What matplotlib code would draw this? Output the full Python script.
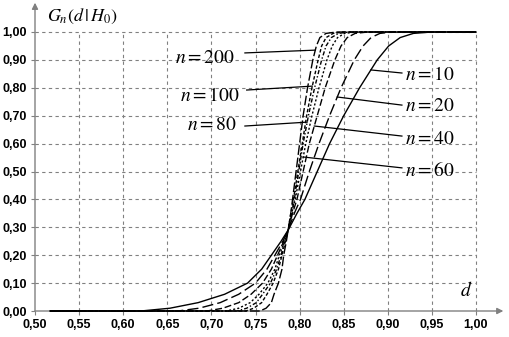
import numpy as np
import matplotlib
matplotlib.use("Agg")
import matplotlib.pyplot as plt

plt.rcParams["mathtext.fontset"] = "stix"

# probability levels shared by all curves
G = [0.0, 0.01, 0.03, 0.06, 0.10, 0.15, 0.20, 0.25, 0.29, 0.35,
     0.40, 0.50, 0.60, 0.70, 0.80, 0.90, 0.95, 0.98, 0.995, 1.0]

# d value reached by each curve at the levels above
D10 = [0.620, 0.653, 0.685, 0.715, 0.741, 0.757, 0.768, 0.779, 0.787, 0.797,
       0.806, 0.820, 0.834, 0.850, 0.868, 0.888, 0.901, 0.914, 0.929, 0.950]
D20 = [0.662, 0.686, 0.710, 0.731, 0.750, 0.763, 0.772, 0.781, 0.787, 0.794,
       0.801, 0.811, 0.822, 0.834, 0.847, 0.862, 0.872, 0.881, 0.891, 0.905]
D40 = [0.695, 0.713, 0.731, 0.745, 0.758, 0.768, 0.775, 0.782, 0.787, 0.792,
       0.797, 0.804, 0.811, 0.820, 0.829, 0.840, 0.847, 0.854, 0.863, 0.877]
D60 = [0.717, 0.731, 0.744, 0.754, 0.764, 0.772, 0.777, 0.783, 0.787, 0.791,
       0.795, 0.801, 0.807, 0.814, 0.822, 0.831, 0.837, 0.843, 0.851, 0.864]
D80 = [0.729, 0.740, 0.751, 0.758, 0.767, 0.774, 0.779, 0.783, 0.787, 0.791,
       0.794, 0.799, 0.804, 0.810, 0.817, 0.825, 0.830, 0.836, 0.844, 0.856]
D100 = [0.739, 0.748, 0.757, 0.763, 0.770, 0.776, 0.780, 0.784, 0.787, 0.790,
        0.793, 0.798, 0.803, 0.808, 0.814, 0.821, 0.825, 0.830, 0.838, 0.849]
D200 = [0.755, 0.762, 0.768, 0.771, 0.776, 0.780, 0.782, 0.785, 0.787, 0.790,
        0.792, 0.796, 0.800, 0.804, 0.809, 0.815, 0.819, 0.823, 0.830, 0.842]

N_VALUES = [10, 20, 40, 60, 80, 100, 200]
CURVES = [D10, D20, D40, D60, D80, D100, D200]
D_START, D_END = 0.517, 1.0

STYLES = {
    10: "-",
    20: (0, (8, 3)),
    40: (0, (5, 2)),
    60: (0, (1.5, 1.5)),
    80: (0, (3, 1.5, 1, 1.5)),
    100: (0, (2.5, 1.5)),
    200: (0, (7, 2)),
}

# label text position (d, G), G level where the leader meets the curve,
# and the far end of the leader
LABELS = {
    200: ((0.693, 0.910), 0.935, (0.738, 0.925)),
    100: ((0.698, 0.774), 0.806, (0.740, 0.792)),
    80: ((0.701, 0.667), 0.677, (0.738, 0.663)),
    10: ((0.948, 0.846), 0.864, (0.916, 0.853)),
    20: ((0.948, 0.735), 0.767, (0.916, 0.738)),
    40: ((0.948, 0.620), 0.663, (0.916, 0.627)),
    60: ((0.948, 0.505), 0.552, (0.916, 0.513)),
}

XTICKS = np.round(np.arange(0.50, 1.001, 0.05), 2)
YTICKS = np.round(np.arange(0.0, 1.001, 0.1), 2)
AXIS_GRAY = "#808080"

fig = plt.figure(figsize=(5.09, 3.37), dpi=100)
ax = fig.add_axes([35 / 509, 26 / 337, 441 / 509, 279 / 337])
ax.set_xlim(0.5, 1.0)
ax.set_ylim(0.0, 1.0)
for s in ax.spines.values():
    s.set_visible(False)

# dashed grid, including the lines on the 1.00 edges
for x in XTICKS[1:]:
    ax.plot([x, x], [0, 1], color=AXIS_GRAY, lw=0.8, ls=(0, (3, 3)),
            clip_on=False, zorder=1)
for y in YTICKS[1:]:
    ax.plot([0.5, 1.0], [y, y], color=AXIS_GRAY, lw=0.8, ls=(0, (3, 3)),
            clip_on=False, zorder=1)

# axes with arrow heads
ax.annotate("", xy=(1.062, 0), xytext=(0, 0), xycoords="axes fraction",
            arrowprops=dict(arrowstyle="-|>", color=AXIS_GRAY, lw=1.0,
                            mutation_scale=9, shrinkA=0, shrinkB=0))
ax.annotate("", xy=(0, 1.105), xytext=(0, 0), xycoords="axes fraction",
            arrowprops=dict(arrowstyle="-|>", color=AXIS_GRAY, lw=1.0,
                            mutation_scale=9, shrinkA=0, shrinkB=0))

ax.set_xticks(XTICKS)
ax.set_yticks(YTICKS)
ax.set_xticklabels([f"{v:.2f}".replace(".", ",") for v in XTICKS])
ax.set_yticklabels([f"{v:.2f}".replace(".", ",") for v in YTICKS])
ax.tick_params(length=3, width=0.8, color=AXIS_GRAY, pad=3)
for lab in ax.get_xticklabels() + ax.get_yticklabels():
    lab.set_family("Liberation Sans")
    lab.set_fontweight("bold")
    lab.set_fontsize(9)

for n, d in zip(N_VALUES, CURVES):
    xs = [D_START] + d + [D_END]
    ys = [0.0] + G + [1.0]
    ax.plot(xs, ys, color="black", lw=1.0, ls=STYLES[n], clip_on=False,
            zorder=3)

for n, d in zip(N_VALUES, CURVES):
    (tx, ty), g_hit, (lx, ly) = LABELS[n]
    d_hit = np.interp(g_hit, G, d)
    ax.plot([lx, d_hit], [ly, g_hit], color="black", lw=0.9, zorder=4)
    ax.text(tx, ty, rf"$n = {n}$", fontsize=14, ha="center", va="center",
            zorder=5)

ax.text(0.027, 1.057, r"$G_n\left(d\,|\,H_0\right)$", transform=ax.transAxes,
        fontsize=13, ha="left", va="center")
ax.text(0.977, 0.075, r"$d$", transform=ax.transAxes, fontsize=14,
        ha="center", va="center")

fig.savefig("out.png", dpi=100)
